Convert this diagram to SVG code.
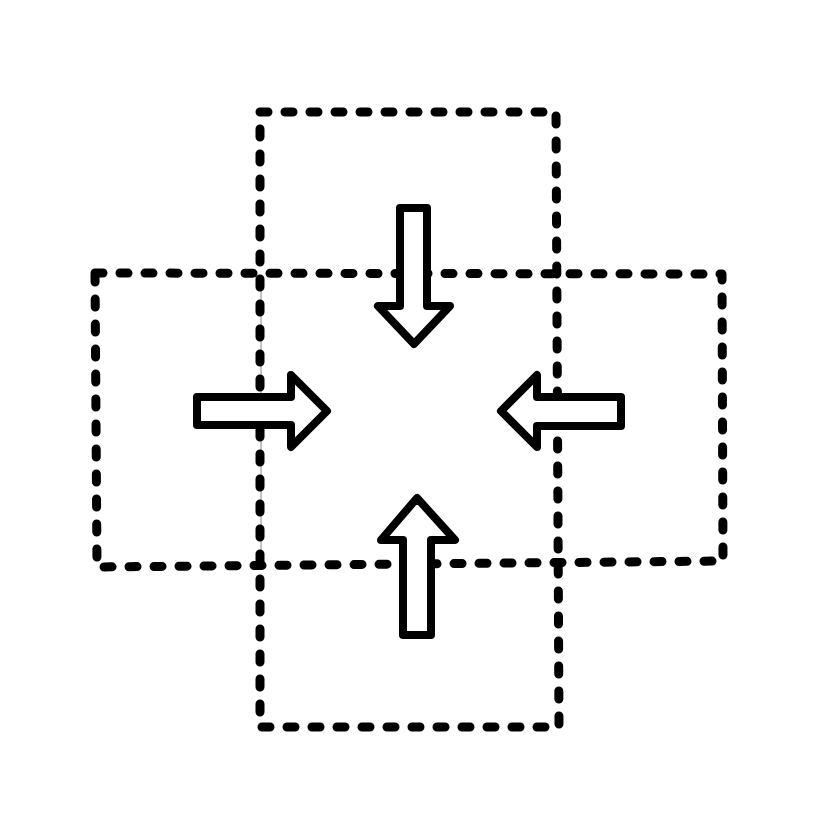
<svg xmlns="http://www.w3.org/2000/svg" width="833" height="833" viewBox="0 0 833 833">
<style>
.dash{fill:none;stroke:#000;stroke-width:9;stroke-linecap:round;stroke-linejoin:round;stroke-dasharray:8 17}
.arrow{fill:#fff;stroke:#000;stroke-width:8;stroke-linejoin:round}
</style>
<rect width="833" height="833" fill="#fff"/>
<g id="connectors">
<line x1="261" y1="275" x2="261" y2="565" stroke="#888" stroke-width="1"/>
</g>
<g id="vertical-box">
<path class="dash" d="M260,112 L556,112 L559,727 L260,727 Z"/>
</g>
<g id="horizontal-box">
<path class="dash" d="M95,273 L722,274 L723,561 L97,567 Z"/>
</g>
<g id="arrow-down"><path class="arrow" d="M400,208 L427,208 L427,306 L450,306 L414,344 L378,306 L400,306 Z"/></g>
<g id="arrow-right"><path class="arrow" d="M197,397 L291,397 L291,375 L327,411 L291,447 L291,425 L197,425 Z"/></g>
<g id="arrow-left"><path class="arrow" d="M501,411 L537,375 L537,397 L621,397 L621,426 L537,426 L537,447 Z"/></g>
<g id="arrow-up"><path class="arrow" d="M417,498 L455,540 L431,540 L431,635 L403,635 L403,540 L381,540 Z"/></g>
</svg>
